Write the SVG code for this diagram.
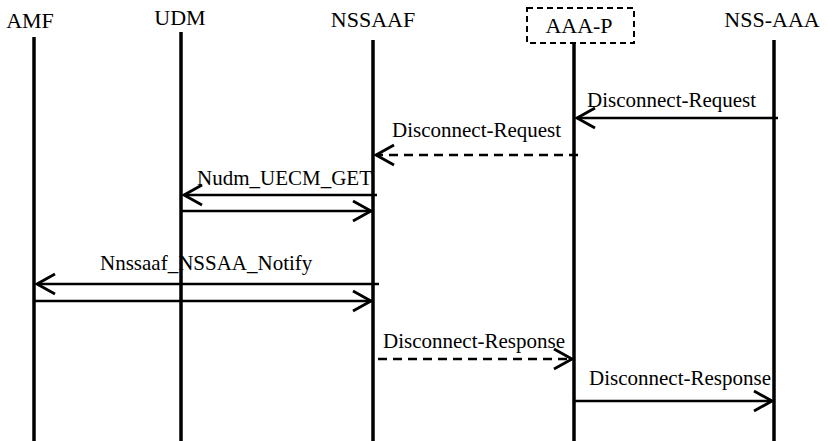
<svg xmlns="http://www.w3.org/2000/svg" width="828" height="441" viewBox="0 0 828 441">
<style>
.lbl{font-family:"Liberation Serif","Times New Roman",serif;font-size:22px;fill:#000}
.life{stroke:#000;stroke-width:3.5;fill:none}
.msg{stroke:#000;stroke-width:2.5;fill:none}
.dash{stroke-dasharray:9,6}
.mlbl{font-family:"Liberation Serif","Times New Roman",serif;font-size:21px;fill:#000}
</style>
<defs>
<marker id="arr" viewBox="0 0 22 24" refX="20" refY="12" markerWidth="22" markerHeight="24" markerUnits="userSpaceOnUse" orient="auto">
<path d="M2,2 L20,12 L2,22" fill="none" stroke="#000" stroke-width="2.8" stroke-dasharray="none"/>
</marker>
</defs>
<rect width="828" height="441" fill="#fff"/>
<g id="AMF">
<text class="lbl" x="30" y="28" text-anchor="middle">AMF</text>
<line class="life" x1="34" y1="37" x2="34" y2="441"/>
</g>
<g id="UDM">
<text class="lbl" x="180" y="25" text-anchor="middle">UDM</text>
<line class="life" x1="181" y1="32" x2="181" y2="441"/>
</g>
<g id="NSSAAF">
<text class="lbl" x="373" y="27" text-anchor="middle">NSSAAF</text>
<line class="life" x1="373" y1="40" x2="373" y2="441"/>
</g>
<g id="AAA-P">
<rect x="527" y="8" width="107" height="35" fill="none" stroke="#000" stroke-width="2" stroke-dasharray="6,4"/>
<text class="lbl" x="579" y="33" text-anchor="middle">AAA-P</text>
<line class="life" x1="574" y1="43" x2="574" y2="441"/>
</g>
<g id="NSS-AAA">
<text class="lbl" x="772" y="27" text-anchor="middle">NSS-AAA</text>
<line class="life" x1="774" y1="40" x2="774" y2="441"/>
</g>
<g id="connectors">
<line class="msg" x1="778" y1="118" x2="577" y2="118" marker-end="url(#arr)"/>
<text class="mlbl" x="587" y="107">Disconnect-Request</text>
<line class="msg dash" x1="578" y1="155" x2="376" y2="155" marker-end="url(#arr)"/>
<text class="mlbl" x="392" y="137">Disconnect-Request</text>
<line class="msg" x1="377" y1="195" x2="184" y2="195" marker-end="url(#arr)"/>
<text class="mlbl" x="197" y="185">Nudm_UECM_GET</text>
<line class="msg" x1="181" y1="211" x2="371" y2="211" marker-end="url(#arr)"/>
<line class="msg" x1="379" y1="284" x2="37" y2="284" marker-end="url(#arr)"/>
<text class="mlbl" x="100" y="270">Nnssaaf_NSSAA_Notify</text>
<line class="msg" x1="34" y1="301" x2="371" y2="301" marker-end="url(#arr)"/>
<line class="msg dash" x1="378" y1="359" x2="572" y2="359" marker-end="url(#arr)"/>
<text class="mlbl" x="383" y="348">Disconnect-Response</text>
<line class="msg" x1="575" y1="401" x2="772" y2="401" marker-end="url(#arr)"/>
<text class="mlbl" x="589" y="385">Disconnect-Response</text>
</g>
</svg>
